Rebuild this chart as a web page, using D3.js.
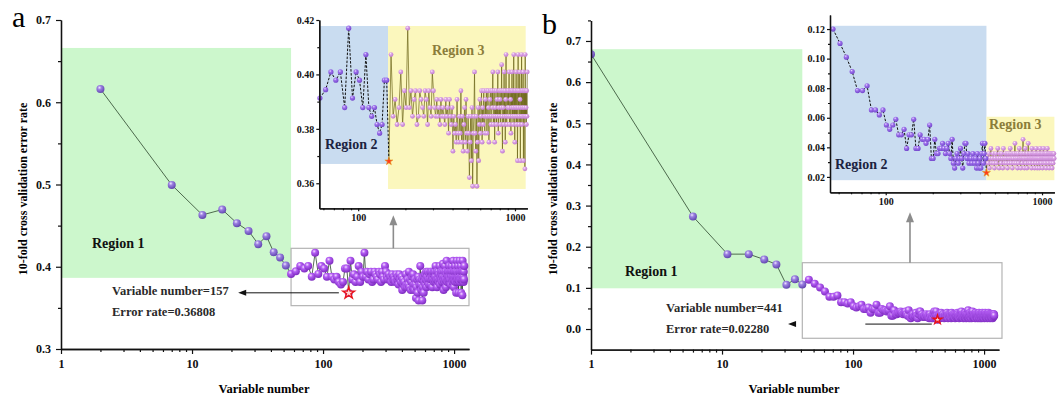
<!DOCTYPE html>
<html>
<head>
<meta charset="utf-8">
<script src="https://cdn.jsdelivr.net/npm/d3@7"></script>
<style>
body { margin: 0; background: #fff; }
svg text { font-family: "Liberation Serif", "Times New Roman", serif; font-weight: bold; }
</style>
</head>
<body>
<svg id="chart" width="1057" height="405"></svg>
<script>
// ---- data (variable number grid, error rates) ----
const aVarNums = d3.range(2, 1198, 5);
const aErrRate = [
  // region 1 (2..57)
  0.6160, 0.4995, 0.4630, 0.4695, 0.4530, 0.4436, 0.4275, 0.4372, 0.4177, 0.4112, 0.4015, 0.3913,
  // region 2 (62..152)
  0.3944, 0.4009, 0.3979, 0.4009, 0.3878, 0.4170, 0.3913, 0.4009, 0.3979, 0.3878,
  0.4073, 0.3878, 0.3846, 0.3878, 0.3816, 0.3784, 0.3816, 0.3979, 0.3979,
  // region 3 (157..1197)
  0.36808, 0.4073, 0.3846, 0.3908, 0.3816, 0.3878, 0.4009, 0.3816, 0.3940, 0.3878,
  0.4170, 0.3878, 0.3940, 0.3846, 0.3908, 0.3940, 0.3816, 0.3846, 0.3940, 0.3908,
  0.3878, 0.3846, 0.3940, 0.3908, 0.3816, 0.3940, 0.3878, 0.3846, 0.4009, 0.3940,
  0.3878, 0.3846, 0.3908, 0.3846, 0.3878, 0.3816, 0.3908, 0.3846, 0.3878, 0.3846,
  0.3816, 0.3908, 0.3846, 0.3878, 0.3784, 0.3908, 0.3846, 0.3816, 0.3878, 0.3718,
  0.3846, 0.3784, 0.3816, 0.3751, 0.3908, 0.3784, 0.3751, 0.3846, 0.3784, 0.3940,
  0.3751, 0.3846, 0.3718, 0.3816, 0.3878, 0.3751, 0.3908, 0.3784, 0.3718, 0.3846,
  0.3784, 0.3621, 0.3751, 0.3846, 0.3683, 0.3878, 0.3589, 0.3784, 0.3846, 0.4009,
  0.3784, 0.3718, 0.3846, 0.3589, 0.3751, 0.3878, 0.3683, 0.3816, 0.3908, 0.3784,
  0.3846, 0.3940, 0.3751, 0.3878, 0.3816, 0.3940, 0.3846, 0.3784, 0.3908, 0.3846,
  0.3940, 0.3784, 0.3846, 0.3940, 0.3878, 0.3751, 0.3846, 0.3908, 0.3940, 0.3816,
  0.3846, 0.3940, 0.3878, 0.4009, 0.3816, 0.3846, 0.3940, 0.3751, 0.3878, 0.3846,
  0.3940, 0.3816, 0.3908, 0.3846, 0.4009, 0.3784, 0.3878, 0.3940, 0.3846, 0.3908,
  0.3816, 0.3940, 0.3878, 0.4036, 0.3846, 0.3718, 0.3940, 0.3878, 0.3816, 0.4009,
  0.3846, 0.3940, 0.3751, 0.3908, 0.4073, 0.3846, 0.3816, 0.3940, 0.3878, 0.3846,
  0.3940, 0.3878, 0.4009, 0.3816, 0.3846, 0.3940, 0.3908, 0.3784, 0.3940, 0.3878,
  0.4009, 0.3846, 0.3940, 0.3816, 0.3878, 0.4073, 0.3846, 0.3940, 0.3751, 0.3878,
  0.3940, 0.3846, 0.4009, 0.3816, 0.3878, 0.3940, 0.3683, 0.3846, 0.4073, 0.3878,
  0.3940, 0.3816, 0.3846, 0.4009, 0.3908, 0.3683, 0.3878, 0.3940, 0.3846, 0.4073,
  0.3816, 0.3940, 0.3878, 0.3846, 0.4009, 0.3683, 0.3940, 0.3878, 0.3846, 0.3940,
  0.3653, 0.4073, 0.3846, 0.3940, 0.3878, 0.3816, 0.3940, 0.3846, 0.4009
];
const aBest = { n: 157, err: 0.36808 };

const bVarNums = d3.range(1, 1197, 5);
const bErrRate = [
  // region 1 (1..41)
  0.668, 0.2735, 0.182, 0.182, 0.169, 0.157, 0.1075, 0.121, 0.1085,
  // region 2 (46..436)
  0.1200, 0.1103, 0.1010, 0.0913, 0.0784, 0.0784, 0.0816, 0.0653, 0.0653, 0.0619,
  0.0653, 0.0551, 0.0522, 0.0551, 0.0590, 0.0485, 0.0485, 0.0522, 0.0393, 0.0485,
  0.0485, 0.0590, 0.0393, 0.0393, 0.0485, 0.0454, 0.0454, 0.0427, 0.0454, 0.0551,
  0.0325, 0.0325, 0.0454, 0.0358, 0.0358, 0.0393, 0.0393, 0.0427, 0.0393, 0.0358,
  0.0393, 0.0427, 0.0358, 0.0325, 0.0454, 0.0293, 0.0260, 0.0325, 0.0358, 0.0293,
  0.0325, 0.0393, 0.0325, 0.0260, 0.0358, 0.0427, 0.0427, 0.0325, 0.0358, 0.0293,
  0.0325, 0.0325, 0.0293, 0.0358, 0.0325, 0.0293, 0.0325, 0.0260, 0.0358, 0.0293,
  0.0260, 0.0325, 0.0260, 0.0358, 0.0427, 0.0293, 0.0358, 0.0427, 0.0325,
  // region 3 (441..1196)
  0.0228, 0.0325, 0.0293, 0.0358, 0.0260, 0.0325, 0.0393, 0.0293, 0.0325, 0.0358,
  0.0293, 0.0260, 0.0325, 0.0358, 0.0293, 0.0325, 0.0393, 0.0325, 0.0260, 0.0358,
  0.0325, 0.0293, 0.0358, 0.0325, 0.0260, 0.0393, 0.0325, 0.0293, 0.0358, 0.0325,
  0.0293, 0.0358, 0.0260, 0.0325, 0.0358, 0.0293, 0.0325, 0.0393, 0.0358, 0.0293,
  0.0325, 0.0260, 0.0358, 0.0325, 0.0293, 0.0358, 0.0427, 0.0325, 0.0293, 0.0358,
  0.0325, 0.0260, 0.0358, 0.0293, 0.0325, 0.0393, 0.0325, 0.0358, 0.0260, 0.0325,
  0.0358, 0.0293, 0.0325, 0.0454, 0.0325, 0.0358, 0.0260, 0.0325, 0.0393, 0.0293,
  0.0358, 0.0325, 0.0260, 0.0358, 0.0325, 0.0427, 0.0293, 0.0325, 0.0358, 0.0325,
  0.0293, 0.0358, 0.0325, 0.0260, 0.0393, 0.0325, 0.0358, 0.0293, 0.0325, 0.0358,
  0.0325, 0.0260, 0.0358, 0.0325, 0.0293, 0.0393, 0.0325, 0.0358, 0.0260, 0.0325,
  0.0358, 0.0293, 0.0325, 0.0358, 0.0260, 0.0325, 0.0393, 0.0293, 0.0358, 0.0325,
  0.0293, 0.0358, 0.0325, 0.0260, 0.0358, 0.0325, 0.0393, 0.0293, 0.0325, 0.0358,
  0.0325, 0.0293, 0.0358, 0.0325, 0.0260, 0.0358, 0.0325, 0.0293, 0.0393, 0.0325,
  0.0358, 0.0293, 0.0325, 0.0358, 0.0260, 0.0325, 0.0358, 0.0293, 0.0325, 0.0358,
  0.0325, 0.0293, 0.0358, 0.0325, 0.0260, 0.0358, 0.0325, 0.0293, 0.0358, 0.0325,
  0.0358, 0.0325
];
const bBest = { n: 441, err: 0.02280 };

// tick values
const mainTicksX = [1, 10, 100, 1000];
const mainMinorX = [2, 3, 4, 5, 6, 7, 8, 9, 20, 30, 40, 50, 60, 70, 80, 90, 200, 300, 400, 500, 600, 700, 800, 900];
const insetTicksX = [100, 1000];
const insetMinorX = [50, 60, 70, 80, 90, 200, 300, 400, 500, 600, 700, 800, 900];
const aTicksY = [0.3, 0.4, 0.5, 0.6, 0.7];
const aMinorY = [0.35, 0.45, 0.55, 0.65];
const bTicksY = [0.0, 0.1, 0.2, 0.3, 0.4, 0.5, 0.6, 0.7];
const bMinorY = [0.05, 0.15, 0.25, 0.35, 0.45, 0.55, 0.65, 0.75];
const aInsetTicksY = [0.36, 0.38, 0.40, 0.42];
const aInsetMinorY = [0.37, 0.39, 0.41];
const bInsetTicksY = [0.02, 0.04, 0.06, 0.08, 0.10, 0.12];
const bInsetMinorY = [0.03, 0.05, 0.07, 0.09, 0.11];

const svg = d3.select("#chart");
const defs = svg.append("defs");

function sphere(id, light, base, dark) {
  const g = defs.append("radialGradient").attr("id", id)
    .attr("cx", "38%").attr("cy", "32%").attr("r", "68%");
  g.append("stop").attr("offset", "0%").attr("stop-color", light);
  g.append("stop").attr("offset", "35%").attr("stop-color", base);
  g.append("stop").attr("offset", "100%").attr("stop-color", dark);
}
sphere("sphBlue", "#efe6ff", "#9c80e2", "#6247b0");
sphere("sphPurple", "#f4dcff", "#b35cf3", "#7e2cc0");
sphere("dotBlue", "#e6dcff", "#9f72ec", "#7448cc");
sphere("dotPink", "#fbeefc", "#dca4e6", "#bf7cce");

function styleAxis(sel, size) {
  sel.select(".domain").attr("stroke", "#111").attr("stroke-width", 1.3);
  sel.selectAll(".tick line").attr("stroke", "#111").attr("stroke-width", 1.2);
  sel.selectAll(".tick text").attr("fill", "#111").style("font-size", size + "px")
    .style("font-family", '"Liberation Serif", "Times New Roman", serif').style("font-weight", "bold");
}

function drawAxes(g, x, y, o) {
  const [y0] = y.range();
  const [x0] = x.range();
  const xMinor = o.xMinor.filter(v => v >= x.domain()[0] && v <= x.domain()[1]);
  const yMinor = o.yMinor.filter(v => v >= y.domain()[0] && v <= y.domain()[1]);
  g.append("g").attr("transform", `translate(0,${y0})`)
    .call(d3.axisBottom(x).tickValues(xMinor).tickFormat("").tickSize(o.minor).tickSizeOuter(0))
    .call(s => styleAxis(s, o.font));
  g.append("g").attr("transform", `translate(0,${y0})`)
    .call(d3.axisBottom(x).tickValues(o.xTicks).tickFormat(d3.format("d"))
      .tickSize(o.major).tickSizeOuter(0).tickPadding(o.padX))
    .call(s => styleAxis(s, o.font));
  g.append("g").attr("transform", `translate(${x0},0)`)
    .call(d3.axisLeft(y).tickValues(yMinor).tickFormat("").tickSize(o.minor).tickSizeOuter(0))
    .call(s => styleAxis(s, o.font));
  g.append("g").attr("transform", `translate(${x0},0)`)
    .call(d3.axisLeft(y).tickValues(o.yTicks).tickFormat(d3.format(o.yFmt))
      .tickSize(o.major).tickSizeOuter(0).tickPadding(o.padY))
    .call(s => styleAxis(s, o.font));
}

function star(g, cx, cy, size, fill, stroke, sw) {
  g.append("path").attr("d", d3.symbol(d3.symbolStar, size)())
    .attr("transform", `translate(${cx},${cy})`)
    .attr("fill", fill).attr("stroke", stroke).attr("stroke-width", sw);
}

function regionText(g, x, y, txt, color) {
  g.append("text").attr("x", x).attr("y", y).attr("fill", color)
    .style("font-size", "14px").text(txt);
}

function drawPanel(p) {
  const g = svg.append("g");
  const pts = p.nums.map((n, i) => ({ n: n, e: p.errs[i] }));
  const x = d3.scaleLog().domain(p.xDomain).range([p.left, p.right]);
  const y = d3.scaleLinear().domain(p.yDomain).range([p.bottom, p.top]);

  const clipId = "clip" + p.name;
  defs.append("clipPath").attr("id", clipId).append("rect")
    .attr("x", p.left).attr("y", 0).attr("width", p.right - p.left + 12).attr("height", p.bottom);

  // region 1
  g.append("rect")
    .attr("x", x(p.xDomain[0])).attr("width", x(p.r1.n) - x(p.xDomain[0]))
    .attr("y", y(p.r1.hi)).attr("height", y(p.r1.lo) - y(p.r1.hi))
    .attr("fill", "#ccf7cc");
  regionText(g, p.r1Label[0], p.r1Label[1], "Region 1", "#111");

  // zoom box
  g.append("rect")
    .attr("x", x(p.box.n0)).attr("width", x(p.box.n1) - x(p.box.n0))
    .attr("y", y(p.box.hi)).attr("height", y(p.box.lo) - y(p.box.hi))
    .attr("fill", "none").attr("stroke", "#b4b4b4").attr("stroke-width", 1.2);

  // line + spheres
  const plot = g.append("g").attr("clip-path", `url(#${clipId})`);
  plot.append("path").datum(pts)
    .attr("fill", "none").attr("stroke", "#2c452c").attr("stroke-width", 0.8)
    .attr("d", d3.line().x(d => x(d.n)).y(d => y(d.e)));
  plot.selectAll("circle").data(pts).enter().append("circle")
    .attr("cx", d => x(d.n)).attr("cy", d => y(d.e)).attr("r", 4)
    .attr("fill", d => d.n <= p.r1Color ? "url(#sphBlue)" : "url(#sphPurple)");
  star(g, x(p.best.n), y(p.best.err), p.starSize, "#ffd6d6", "#e8121a", 1.4);

  // annotation arrow + text
  const ay = y(p.arrow.e);
  g.append("line").attr("x1", x(p.arrow.from)).attr("x2", x(p.arrow.to) + 6)
    .attr("y1", ay).attr("y2", ay).attr("stroke", "#111").attr("stroke-width", 1);
  const hx = x(p.arrow.head);
  g.append("path").attr("d", `M${hx},${ay}L${hx + 8},${ay - 3}L${hx + 8},${ay + 3}Z`).attr("fill", "#111");
  g.append("text").attr("x", p.note[0]).attr("y", p.note[1]).attr("fill", "#2a2a2a")
    .style("font-size", "12.5px").text(`Variable number=${p.best.n}`);
  g.append("text").attr("x", p.note[0]).attr("y", p.note[1] + 21).attr("fill", "#2a2a2a")
    .style("font-size", "12.5px").text(`Error rate=${p.best.err.toFixed(5)}`);

  drawAxes(g, x, y, { xTicks: mainTicksX, xMinor: mainMinorX, yTicks: p.yTicks, yMinor: p.yMinor,
    yFmt: ".1f", major: 5, minor: 3, padX: 5, padY: 5, font: 12 });

  // axis titles
  g.append("text").attr("x", (p.left + p.right) / 2 - 1).attr("y", 393)
    .attr("text-anchor", "middle").style("font-size", "12.5px").text("Variable number");
  g.append("text").attr("transform", `translate(${p.left - 34},189) rotate(-90)`)
    .attr("text-anchor", "middle").style("font-size", "12px").text("10-fold cross validation error rate");
  g.append("text").attr("x", p.letter[0]).attr("y", p.letter[1])
    .style("font-size", "30px").style("font-weight", "normal").text(p.name);

  // ---- inset ----
  const q = p.inset;
  const ix = d3.scaleLog().domain(q.xDomain).range([q.left, q.right]);
  const iy = d3.scaleLinear().domain(q.yDomain).range([q.bottom, q.top]);
  const ig = g.append("g");
  ig.append("rect").attr("x", ix(q.blue.n0)).attr("width", ix(q.blue.n1) - ix(q.blue.n0))
    .attr("y", iy(q.blue.hi)).attr("height", iy(q.blue.lo) - iy(q.blue.hi)).attr("fill", "#c9dcf0");
  ig.append("rect").attr("x", ix(q.yellow.n0)).attr("width", ix(q.yellow.n1) - ix(q.yellow.n0))
    .attr("y", iy(q.yellow.hi)).attr("height", iy(q.yellow.lo) - iy(q.yellow.hi)).attr("fill", "#fbf7bd");

  const ipts = pts.filter(d => d.n >= q.xDomain[0]);
  const r2 = ipts.filter(d => d.n <= p.best.n);
  const r3 = ipts.filter(d => d.n >= p.best.n);
  const iline = d3.line().x(d => ix(d.n)).y(d => iy(d.e));
  ig.append("path").datum(r3).attr("fill", "none").attr("stroke", "#6b6418")
    .attr("stroke-width", 0.7).attr("d", iline);
  ig.append("path").datum(r2).attr("fill", "none").attr("stroke", "#111")
    .attr("stroke-width", 1).attr("stroke-dasharray", "2.5,1.5").attr("d", iline);
  ig.selectAll("circle.r3").data(r3.slice(1)).enter().append("circle")
    .attr("cx", d => ix(d.n)).attr("cy", d => iy(d.e)).attr("r", 2.4).attr("fill", "url(#dotPink)");
  ig.selectAll("circle.r2").data(r2.slice(0, -1)).enter().append("circle")
    .attr("cx", d => ix(d.n)).attr("cy", d => iy(d.e)).attr("r", 2.6).attr("fill", "url(#dotBlue)");
  star(ig, ix(p.best.n), iy(p.best.err), 20, "#ff3a1c", "#e0a020", 0.6);

  regionText(ig, q.r2Label[0], q.r2Label[1], "Region 2", "#1c2340");
  regionText(ig, q.r3Label[0], q.r3Label[1], "Region 3", "#8b7d3a");

  drawAxes(ig, ix, iy, { xTicks: insetTicksX, xMinor: insetMinorX, yTicks: q.yTicks, yMinor: q.yMinor,
    yFmt: ".2f", major: 3, minor: 2, padX: 3, padY: 2, font: 10 });

  // gray arrow from box to inset
  const ux = x(p.upArrow);
  const tipY = q.bottom + q.tipGap;
  g.append("line").attr("x1", ux).attr("x2", ux).attr("y1", y(p.box.hi)).attr("y2", tipY + 6)
    .attr("stroke", "#8c8c8c").attr("stroke-width", 1.6);
  g.append("path").attr("d", `M${ux},${tipY}L${ux - 4},${tipY + 10}L${ux + 4},${tipY + 10}Z`)
    .attr("fill", "#8c8c8c");
}

drawPanel({
  name: "a", nums: aVarNums, errs: aErrRate, best: aBest,
  left: 61, right: 469, top: 20, bottom: 349,
  xDomain: [1, 1300], yDomain: [0.3, 0.7], yTicks: aTicksY, yMinor: aMinorY,
  r1: { n: 57, lo: 0.3865, hi: 0.666 }, r1Color: 52, r1Label: [92, 248],
  box: { n0: 57, n1: 1300, lo: 0.3527, hi: 0.4224 },
  arrow: { from: 132, to: 22.5, head: 22.5, e: 0.3683 },
  note: [112, 295], letter: [12, 27], upArrow: 344, starSize: 42,
  inset: {
    left: 319.3, right: 527.4, top: 20, bottom: 208.3, tipGap: 7,
    xDomain: [56.5, 1200], yDomain: [0.3508, 0.42], yTicks: aInsetTicksY, yMinor: aInsetMinorY,
    blue: { n0: 56.5, n1: 155, lo: 0.3671, hi: 0.4178 },
    yellow: { n0: 155, n1: 1170, lo: 0.3579, hi: 0.4178 },
    r2Label: [325, 149], r3Label: [432, 55]
  }
});

drawPanel({
  name: "b", nums: bVarNums, errs: bErrRate, best: bBest,
  left: 591, right: 999, top: 20.4, bottom: 349.6,
  xDomain: [1, 1300], yDomain: [-0.05, 0.75], yTicks: bTicksY, yMinor: bMinorY,
  r1: { n: 41, lo: 0.099, hi: 0.68 }, r1Color: 41, r1Label: [625, 276],
  box: { n0: 41, n1: 1370, lo: -0.0225, hi: 0.1612 },
  arrow: { from: 399, to: 111.7, head: 31.9, e: 0.012 },
  note: [666, 312], letter: [542, 34], upArrow: 272, starSize: 24,
  inset: {
    left: 830, right: 1054.4, top: 15, bottom: 192.3, tipGap: 20,
    xDomain: [44, 1200], yDomain: [0.0096, 0.1295], yTicks: bInsetTicksY, yMinor: bInsetMinorY,
    blue: { n0: 44, n1: 441, lo: 0.0178, hi: 0.1222 },
    yellow: { n0: 441, n1: 1200, lo: 0.0178, hi: 0.0607 },
    r2Label: [835, 169], r3Label: [989, 129]
  }
});
</script>
</body>
</html>
